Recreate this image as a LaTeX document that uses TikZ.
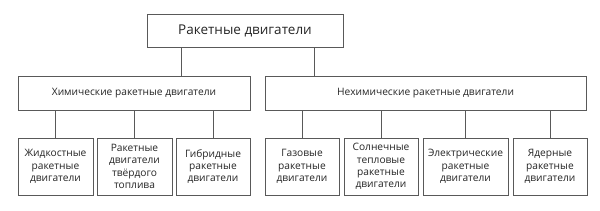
\documentclass[tikz,border=0pt]{standalone}
\usepackage{fontspec}
\setmainfont{Open Sans}
\usetikzlibrary{positioning, calc}

\begin{document}
\begin{tikzpicture}[x=1pt, y=-1pt,
    every node/.style={font=\fontsize{10.2}{12.4}\selectfont, text=black!85},
    root/.style={draw=black!65, line width=0.9pt, fill=white, minimum width=196pt, minimum height=33pt, font=\fontsize{13.5}{15}\selectfont},
    grp/.style={draw=black!65, line width=0.9pt, fill=white, minimum height=34pt, inner sep=0pt},
    leaf/.style={draw=black!65, line width=0.9pt, fill=white, minimum width=74pt, minimum height=57pt, align=center, inner sep=0pt},
    link/.style={draw=black!65, line width=0.9pt}
]
\useasboundingbox (0,0) rectangle (600,211);

\node[root] (root) at (245,30.5) {Ракетные двигатели};

\node[grp, minimum width=232pt] (chem) at (134,93) {Химические ракетные двигатели};
\node[grp, minimum width=321pt] (nonchem) at (425.5,93) {Нехимические ракетные двигатели};

\node[leaf, minimum width=75pt] (liquid) at (55.5,166.5) {Жидкостные\\ракетные\\двигатели};
\node[leaf, minimum width=75pt] (solid) at (134.5,166.5) {Ракетные\\двигатели\\твёрдого\\топлива};
\node[leaf] (hybrid) at (213,166.5) {Гибридные\\ракетные\\двигатели};
\node[leaf] (gas) at (302,166.5) {Газовые\\ракетные\\двигатели};
\node[leaf] (solar) at (381,166.5) {Солнечные\\тепловые\\ракетные\\двигатели};
\node[leaf, minimum width=85pt] (electric) at (465.5,166.5) {Электрические\\ракетные\\двигатели};
\node[leaf] (nuclear) at (550,166.5) {Ядерные\\ракетные\\двигатели};

\draw[link] ([xshift=35pt]root.south west) coordinate (r1) -- (r1 |- chem.north);
\draw[link] ([xshift=-29pt]root.south east) coordinate (r2) -- (r2 |- nonchem.north);

\foreach \n in {liquid, solid, hybrid}
  \draw[link] (chem.south -| \n.north) -- (\n.north);
\foreach \n in {gas, solar, electric, nuclear}
  \draw[link] (nonchem.south -| \n.north) -- (\n.north);
\end{tikzpicture}
\end{document}
